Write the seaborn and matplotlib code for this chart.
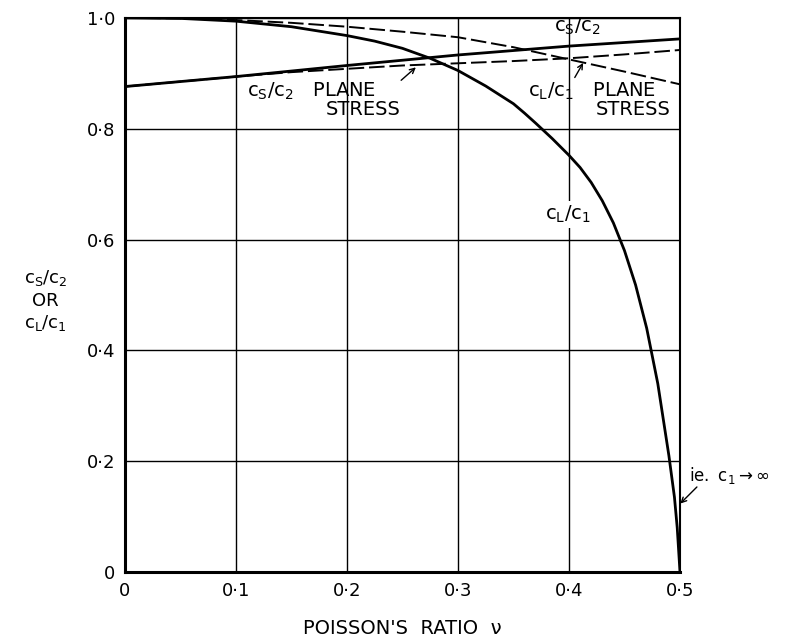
import numpy as np
import pandas as pd
import matplotlib
matplotlib.use("Agg")
import matplotlib.pyplot as plt
import seaborn as sns

# values
nu_cl = [0.0, 0.05, 0.1, 0.15, 0.2, 0.225, 0.25, 0.275, 0.3, 0.325, 0.35, 0.36, 0.37,
         0.385, 0.4, 0.41, 0.42, 0.43, 0.44, 0.45, 0.46, 0.47, 0.48, 0.49, 0.495,
         0.4975, 0.5]
cl_c1 = [1.0, 0.999, 0.994, 0.984, 0.968, 0.958, 0.945, 0.927, 0.905, 0.877, 0.845,
         0.828, 0.810, 0.782, 0.752, 0.730, 0.703, 0.670, 0.630, 0.580, 0.518, 0.440,
         0.340, 0.210, 0.135, 0.080, 0.0]

nu_cs = [0.0, 0.1, 0.2, 0.3, 0.4, 0.5]
cs_c2 = [0.876, 0.894, 0.914, 0.933, 0.949, 0.962]

nu_ps = [0.0, 0.05, 0.1, 0.15, 0.2, 0.25, 0.3, 0.35, 0.4, 0.45, 0.5]
cl_c1_stress = [1.0, 0.999, 0.996, 0.991, 0.984, 0.975, 0.965, 0.947, 0.925, 0.903, 0.880]
cs_c2_stress = [0.876, 0.885, 0.894, 0.902, 0.908, 0.914, 0.918, 0.922, 0.927, 0.934, 0.942]

x_ticks = [0.0, 0.1, 0.2, 0.3, 0.4, 0.5]
x_labels = ["0", "0·1", "0·2", "0·3", "0·4", "0·5"]
y_ticks = [0.0, 0.2, 0.4, 0.6, 0.8, 1.0]
y_labels = ["0", "0·2", "0·4", "0·6", "0·8", "1·0"]

sns.set_style("white")
plt.rcParams['font.family'] = ['DejaVu Sans']
plt.rcParams['mathtext.fontset'] = 'dejavusans'
plt.rcParams['text.color'] = 'black'
plt.rcParams['xtick.color'] = 'black'
plt.rcParams['ytick.color'] = 'black'
plt.rcParams['axes.labelcolor'] = 'black'

fig = plt.figure(figsize=(8, 6.37), dpi=100)
ax = fig.add_axes([0.156, 0.102, 0.694, 0.870])

dash = [8, 2.5]
sns.lineplot(x=nu_cl, y=cl_c1, ax=ax, color="black", lw=2.0, estimator=None, sort=False)
sns.lineplot(x=nu_cs, y=cs_c2, ax=ax, color="black", lw=2.0, estimator=None, sort=False)
sns.lineplot(x=nu_ps, y=cl_c1_stress, ax=ax, color="black", lw=1.4, estimator=None,
             sort=False).lines[-1].set_dashes(dash)
sns.lineplot(x=nu_ps, y=cs_c2_stress, ax=ax, color="black", lw=1.4, estimator=None,
             sort=False).lines[-1].set_dashes(dash)

ax.set_xlim(0, 0.5)
ax.set_ylim(0, 1.0)
ax.set_xticks(x_ticks)
ax.set_xticklabels(x_labels, fontsize=13)
ax.set_yticks(y_ticks)
ax.set_yticklabels(y_labels, fontsize=13)
ax.tick_params(length=0, pad=7)
ax.grid(True, color="black", lw=1.0)
ax.set_axisbelow(True)
for side in ["left", "bottom"]:
    ax.spines[side].set_linewidth(2.2)
for side in ["top", "right"]:
    ax.spines[side].set_linewidth(1.5)
for sp in ax.spines.values():
    sp.set_color("black")

ax.set_xlabel("POISSON'S  RATIO  ν", fontsize=14, labelpad=14)
ax.set_ylabel("")
fig.text(0.057, 0.528, "$\\mathrm{c_S/c_2}$\nOR\n$\\mathrm{c_L/c_1}$", ha="center", va="center",
         fontsize=13, linespacing=1.25)

# curve labels
ax.text(0.408, 0.984, "$\\mathrm{c_S/c_2}$", fontsize=14, ha="center", va="center")
ax.text(0.110, 0.867, "$\\mathrm{c_S/c_2}$   PLANE", fontsize=14, ha="left", va="center")
ax.text(0.248, 0.834, "STRESS", fontsize=14, ha="right", va="center")
ax.text(0.363, 0.867, "$\\mathrm{c_L/c_1}$   PLANE", fontsize=14, ha="left", va="center")
ax.text(0.492, 0.834, "STRESS", fontsize=14, ha="right", va="center")
ax.text(0.399, 0.645, "$\\mathrm{c_L/c_1}$", fontsize=14, ha="center", va="center",
        zorder=1.5, bbox=dict(facecolor="white", edgecolor="none", pad=2))
ax.text(0.508, 0.175, "$\\mathrm{ie.\\ c_1 \\rightarrow \\infty}$", fontsize=12,
        ha="left", va="center", clip_on=False)

arrow = dict(arrowstyle="->", color="black", lw=1.0, mutation_scale=9)
ax.annotate("", xy=(0.264, 0.914), xytext=(0.247, 0.884), arrowprops=arrow)
ax.annotate("", xy=(0.414, 0.923), xytext=(0.404, 0.888), arrowprops=arrow)
ax.annotate("", xy=(0.4985, 0.12), xytext=(0.517, 0.157), arrowprops=arrow,
            annotation_clip=False)

fig.savefig("out.png", dpi=100)
